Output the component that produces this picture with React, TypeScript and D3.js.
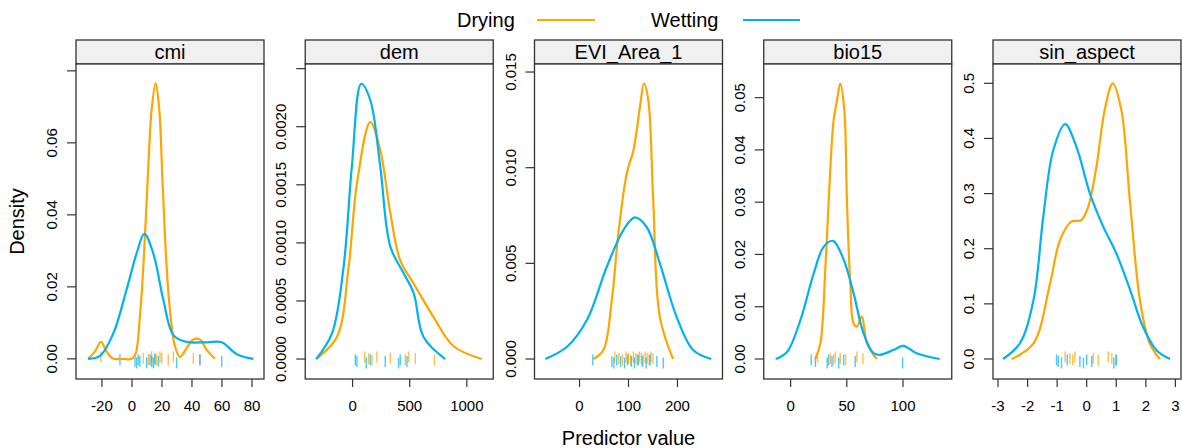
import React from 'react';
import * as d3 from 'd3';

// panel names (strip labels)
const panels = ['cmi', 'dem', 'EVI_Area_1', 'bio15', 'sin_aspect'];
const groups = ['Drying', 'Wetting'];
const groupColors = ['#FFA500', '#00B2EE'];

// density curves: [predictor value, density]
const dryingCmi = [[-29.3, 0], [-24.7, 0.002], [-20.7, 0.0047], [-16.9, 0.002], [-12.7, 0.0001], [-6, 0], [0, 0], [2.5, 0.0015], [5.3, 0.0118], [7.6, 0.0256], [10.9, 0.0534], [13.1, 0.0692], [15.8, 0.0766], [18.2, 0.0692], [20.4, 0.0488], [23.1, 0.0256], [25.3, 0.0136], [28.7, 0.0034], [32, 0.0005], [36.4, 0.003], [40.9, 0.0054], [45.3, 0.0054], [49.8, 0.0025], [55.3, 0]];
const wettingCmi = [[-29.3, 0], [-21.3, 0.0008], [-12.4, 0.0071], [-3.6, 0.0192], [3.1, 0.0293], [8.2, 0.0347], [14.2, 0.0293], [20.9, 0.0164], [27.6, 0.0066], [36.4, 0.0047], [49.8, 0.0046], [59.8, 0.0046], [69.8, 0.0013], [80.9, 0]];
const dryingDem = [[-318, 0], [-137, 0.00019], [-35, 0.00079], [38, 0.00151], [155, 0.00204], [242, 0.0018], [330, 0.00126], [417, 0.00085], [534, 0.00065], [709, 0.00036], [884, 0.00011], [1132, 0]];
const wettingDem = [[-318, 0], [-180, 0.00022], [-79, 0.00079], [-6, 0.00166], [76, 0.00237], [155, 0.00223], [242, 0.00166], [330, 0.00097], [446, 0.00074], [534, 0.00057], [621, 0.00019], [811, 0]];
const dryingEvi = [[28.5, 0], [48.8, 0.00047], [65.9, 0.00308], [79.3, 0.00657], [96.4, 0.0097], [110, 0.0109], [123.5, 0.0132], [131.6, 0.0144], [140.4, 0.01354], [150.5, 0.0083], [164, 0.0022], [191, 0]];
const wettingEvi = [[-70, 0], [-25.6, 0.00064], [15, 0.00204], [55.7, 0.00482], [89.5, 0.00674], [113, 0.0074], [137, 0.0069], [164, 0.005], [198, 0.00222], [232, 0.00047], [269, 0]];
const dryingBio = [[22, 0], [26.5, 0.003], [31, 0.0177], [35.4, 0.0368], [38.3, 0.0457], [41.3, 0.0495], [44.2, 0.0527], [47.8, 0.0476], [50.1, 0.0304], [53.1, 0.0145], [56, 0.0068], [59, 0.0062], [63.4, 0.0081], [67.9, 0.003], [76.7, 0]];
const wettingBio = [[-13.3, 0], [-3, 0.0014], [8.8, 0.0075], [20.6, 0.0164], [29.5, 0.0215], [37.8, 0.0226], [47.2, 0.019], [56, 0.0126], [64.9, 0.0049], [73.7, 0.0011], [79.6, 0.0008], [91.4, 0.0017], [100.3, 0.0025], [112, 0.0011], [132.7, 0]];
const dryingSin = [[-2.54, 0], [-1.8, 0.0285], [-1.24, 0.137], [-0.9, 0.216], [-0.52, 0.249], [-0.18, 0.252], [0.05, 0.276], [0.33, 0.349], [0.61, 0.452], [0.88, 0.5], [1.17, 0.452], [1.46, 0.288], [1.8, 0.107], [2.13, 0.0285], [2.47, 0]];
const wettingSin = [[-2.83, 0], [-2.26, 0.0285], [-1.8, 0.107], [-1.47, 0.258], [-1.13, 0.379], [-0.73, 0.426], [-0.35, 0.385], [0.11, 0.3], [0.56, 0.24], [1.0, 0.192], [1.47, 0.125], [1.9, 0.059], [2.36, 0.016], [2.82, 0]];

// rug observations
const dryingRugCmi = [-20.7, 7.6, 10.9, 13.1, 15.3, 16.4, 18.7, 19.8, 24.2, 27.6, 40.9, 45.3];
const wettingRugCmi = [-8, 2, 3.1, 4.2, 5.3, 9.8, 12, 13.1, 14.2, 15.3, 17.6, 29.8, 45.3, 59.8];
const dryingRugDem = [105, 140, 170, 213, 330, 461, 490, 549, 717];
const wettingRugDem = [24, 38, 120, 155, 286, 402, 417, 476];
const dryingRugEvi = [72, 80, 88, 95, 100, 104, 110, 115, 118, 122, 126, 130, 134, 138, 142, 146, 150];
const wettingRugEvi = [27, 66, 70, 76, 84, 92, 98, 106, 112, 120, 128, 136, 144, 158, 171];
const dryingRugBio = [24, 35.4, 38.3, 39.8, 44.2, 49, 59, 64.3];
const wettingRugBio = [18.3, 22.1, 32.5, 33.9, 36.8, 42.8, 47.2, 57.5, 99.7];
const dryingRugSin = [-0.73, -0.57, -0.47, -0.4, 0.22, 0.39, 0.73, 0.85, 0.99];
const wettingRugSin = [-1.02, -0.96, -0.85, -0.66, -0.23, -0.11, 0.0, 0.17, 0.92, 1.0];

const dryingCurves = [dryingCmi, dryingDem, dryingEvi, dryingBio, dryingSin];
const wettingCurves = [wettingCmi, wettingDem, wettingEvi, wettingBio, wettingSin];
const dryingRugs = [dryingRugCmi, dryingRugDem, dryingRugEvi, dryingRugBio, dryingRugSin];
const wettingRugs = [wettingRugCmi, wettingRugDem, wettingRugEvi, wettingRugBio, wettingRugSin];

// axis limits and ticks
const xDomains = [[-37.3, 88], [-414, 1231], [-92, 292], [-23.9, 143.4], [-3.17, 3.19]];
const yDomains = [[-0.0056, 0.0819], [-0.000172, 0.00254], [-0.001045, 0.01542], [-0.00383, 0.05644], [-0.0363, 0.535]];
const xTicks = [[-20, 0, 20, 40, 60, 80], [0, 500, 1000], [0, 100, 200], [0, 50, 100], [-3, -2, -1, 0, 1, 2, 3]];
const yTicks = [[0, 0.02, 0.04, 0.06, 0.08], [0, 0.0005, 0.001, 0.0015, 0.002, 0.0025], [0, 0.005, 0.01, 0.015], [0, 0.01, 0.02, 0.03, 0.04, 0.05], [0, 0.1, 0.2, 0.3, 0.4, 0.5]];
const yTickLabels = [
  ['0.00', '0.02', '0.04', '0.06', ''],
  ['0.0000', '0.0005', '0.0010', '0.0015', '0.0020', ''],
  ['0.000', '0.005', '0.010', '0.015'],
  ['0.00', '0.01', '0.02', '0.03', '0.04', '0.05'],
  ['0.0', '0.1', '0.2', '0.3', '0.4', '0.5'],
];

const W = 1182;
const H = 448;
const top = 64;
const bottom = 379;
const stripTop = 40;
const panelW = 188;
const firstLeft = 76;
const panelStep = 229.25;
const font = 'Arial, "Liberation Sans", Helvetica, sans-serif';
const frame = '#333333';

const Panel = ({ i }: { i: number }) => {
  const left = firstLeft + i * panelStep;
  const x = d3.scaleLinear().domain(xDomains[i]).range([left, left + panelW]);
  const y = d3.scaleLinear().domain(yDomains[i]).range([bottom, top]);
  const line = d3
    .line<number[]>()
    .x(d => x(d[0]))
    .y(d => Math.min(y(d[1]), y(0)))
    .curve(d3.curveCatmullRom.alpha(0.5));
  const curves = [dryingCurves[i], wettingCurves[i]];
  const rugs = [dryingRugs[i], wettingRugs[i]];
  const y0 = y(0);

  return (
    <g>
      <rect x={left} y={stripTop} width={panelW} height={top - stripTop} fill="#f0f0f0" stroke={frame} strokeWidth={1.3} />
      <text x={left + panelW / 2} y={59} textAnchor="middle" fontSize={20} fontFamily={font}>{panels[i]}</text>
      <rect x={left} y={top} width={panelW} height={bottom - top} fill="white" stroke={frame} strokeWidth={1.3} />
      {rugs.map((r, g) =>
        r.map((v, k) => (
          <line
            key={`r${g}-${k}`}
            x1={x(v)}
            x2={x(v)}
            y1={y0 - 6 + g * 3 + ((k % 3) - 1) * 1.5}
            y2={y0 + 5 + g * 3 + ((k % 3) - 1) * 1.5}
            stroke={groupColors[g]}
            strokeOpacity={0.7}
            strokeWidth={1.4}
          />
        ))
      )}
      {curves.map((c, g) => (
        <path key={`c${g}`} d={line(c) || ''} fill="none" stroke={groupColors[g]} strokeWidth={2.2} />
      ))}
      {xTicks[i].map(t => (
        <g key={`x${t}`}>
          <line x1={x(t)} x2={x(t)} y1={bottom} y2={bottom + 8} stroke={frame} strokeWidth={1.2} />
          <text x={x(t)} y={411} textAnchor="middle" fontSize={15} fontFamily={font}>{t}</text>
        </g>
      ))}
      {yTicks[i].map((t, k) => (
        <g key={`y${t}`}>
          <line x1={left - 9} x2={left} y1={y(t)} y2={y(t)} stroke={frame} strokeWidth={1.2} />
          <text
            transform={`translate(${left - 19},${y(t)}) rotate(-90)`}
            textAnchor="middle"
            fontSize={15}
            fontFamily={font}
          >
            {yTickLabels[i][k]}
          </text>
        </g>
      ))}
    </g>
  );
};

export default function App() {
  return (
    <svg width={W} height={H} style={{ position: 'absolute', left: 0, top: 0, display: 'block', background: 'white' }}>
      <rect width={W} height={H} fill="white" />
      {/* legend */}
      <text x={457} y={27} fontSize={20} fontFamily={font}>{groups[0]}</text>
      <line x1={537} x2={595} y1={20} y2={20} stroke={groupColors[0]} strokeWidth={2.2} />
      <text x={651} y={27} fontSize={20} fontFamily={font}>{groups[1]}</text>
      <line x1={743} x2={800} y1={20} y2={20} stroke={groupColors[1]} strokeWidth={2.2} />
      {panels.map((p, i) => (
        <Panel key={p} i={i} />
      ))}
      <text x={628.5} y={445} textAnchor="middle" fontSize={20} fontFamily={font}>Predictor value</text>
      <text transform={`translate(24,${(top + bottom) / 2}) rotate(-90)`} textAnchor="middle" fontSize={20} fontFamily={font}>Density</text>
    </svg>
  );
}
